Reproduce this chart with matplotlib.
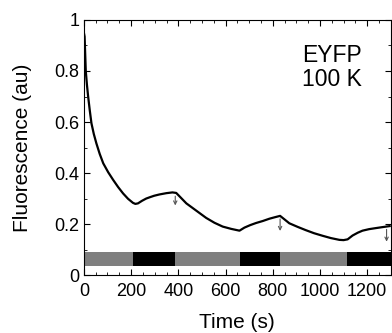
import numpy as np
import matplotlib
matplotlib.use('Agg')
import matplotlib.pyplot as plt
from matplotlib.ticker import MultipleLocator

plt.rcParams['font.family'] = ['Liberation Sans', 'DejaVu Sans']

# fluorescence trace
t = [0, 3, 8, 13, 18, 25, 32, 42, 53, 67, 82, 103, 124, 145, 166, 187, 208,
     218, 229, 246, 264, 282, 298, 320, 349, 375, 391, 412, 434, 462, 490,
     518, 553, 588, 624, 659, 680, 705, 729, 758, 786, 810, 831, 850, 870,
     905, 940, 975, 1011, 1046, 1082, 1100, 1117, 1138, 1160, 1180, 1208,
     1236, 1265, 1295]
f = [0.95, 0.935, 0.80, 0.745, 0.70, 0.645, 0.595, 0.553, 0.516, 0.475,
     0.438, 0.403, 0.373, 0.345, 0.32, 0.299, 0.283, 0.279, 0.281, 0.291,
     0.30, 0.306, 0.311, 0.316, 0.321, 0.324, 0.322, 0.302, 0.281, 0.262,
     0.243, 0.224, 0.205, 0.19, 0.181, 0.174, 0.186, 0.196, 0.204, 0.212,
     0.221, 0.227, 0.232, 0.218, 0.203, 0.189, 0.176, 0.164, 0.154, 0.145,
     0.138, 0.137, 0.140, 0.155, 0.166, 0.174, 0.180, 0.184, 0.188, 0.192]

# illumination bar segments
seg_start = [0, 210, 387, 660, 831, 1115]
seg_len = [210, 177, 273, 171, 284, 185]
seg_color = ['#7f7f7f', 'black', '#7f7f7f', 'black', '#7f7f7f', 'black']

# small arrows (time, from, to)
arr_t = [387, 831, 1282]
arr_top = [0.32, 0.231, 0.19]
arr_bot = [0.262, 0.162, 0.12]

fig = plt.figure(figsize=(3.92, 3.33), dpi=100)
ax = fig.add_axes([0.214, 0.174, 0.783, 0.766])

ax.broken_barh(list(zip(seg_start, seg_len)), (0.037, 0.052),
               facecolors=seg_color, edgecolor='none')
ax.plot(t, f, color='black', lw=1.6)

for x, y0, y1 in zip(arr_t, arr_top, arr_bot):
    ax.annotate('', xy=(x, y1), xytext=(x, y0),
                arrowprops=dict(arrowstyle='->', color='#555555', lw=0.8,
                                mutation_scale=6))

ax.text(1050, 0.905, 'EYFP\n100 K', fontsize=16.5, ha='center', va='top',
        linespacing=1.05)

ax.set_xlim(0, 1300)
ax.set_ylim(0, 1)
ax.xaxis.set_major_locator(MultipleLocator(200))
ax.xaxis.set_minor_locator(MultipleLocator(50))
ax.yaxis.set_major_locator(MultipleLocator(0.2))
ax.yaxis.set_minor_locator(MultipleLocator(0.1))
ax.set_yticks([0, 0.2, 0.4, 0.6, 0.8, 1])
ax.set_yticklabels(['0', '0.2', '0.4', '0.6', '0.8', '1'])
ax.tick_params(which='both', direction='in', top=True, right=True,
               labelsize=13)
ax.tick_params(axis='x', pad=6)
ax.tick_params(axis='y', pad=3)
ax.tick_params(which='major', length=4)
ax.tick_params(which='minor', length=2)

ax.set_xlabel('Time (s)', fontsize=15, labelpad=9)
ax.set_ylabel('Fluorescence (au)', fontsize=15, labelpad=16)

fig.savefig('out.png', dpi=100)
